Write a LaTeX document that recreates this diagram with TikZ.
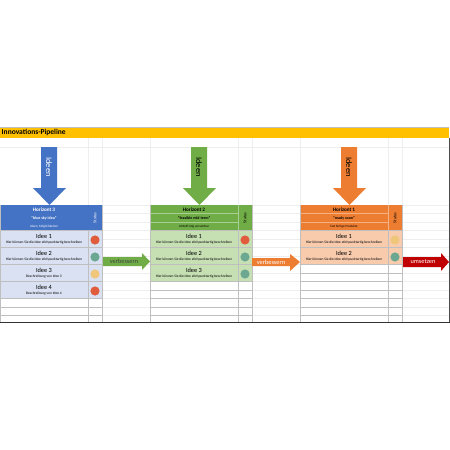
\documentclass[tikz,border=0pt]{standalone}
\usepackage{fontspec}
\setmainfont{Carlito}
\usetikzlibrary{positioning}
\usepackage{xcolor}
\definecolor{titelgelb}{RGB}{255,192,0}
\definecolor{hblau}{RGB}{68,114,196}
\definecolor{hblauhell}{RGB}{217,225,242}
\definecolor{hgruen}{RGB}{112,173,71}
\definecolor{hgruenhell}{RGB}{198,224,180}
\definecolor{horange}{RGB}{237,125,49}
\definecolor{horangehell}{RGB}{248,203,173}
\definecolor{pfeilrot}{RGB}{192,0,0}
\definecolor{ampelrot}{RGB}{224,92,60}
\definecolor{ampelgruen}{RGB}{108,168,145}
\definecolor{ampelgelb}{RGB}{240,198,122}

\begin{document}
\begin{tikzpicture}[x=0.03cm,y=-0.03cm,every node/.style={inner sep=0pt},
  gitter/.style={gray!13,line width=0.15pt},
  zeile/.style={gray!50,line width=0.25pt},
  titel/.style={font=\fontsize{6.4}{7}\selectfont\bfseries,anchor=west},
  pfeiltext/.style={font=\fontsize{7.2}{8}\selectfont,rotate=-90},
  quertext/.style={font=\fontsize{5.4}{6}\selectfont},
  horizont/.style={font=\fontsize{4.4}{5}\selectfont\bfseries},
  motto/.style={font=\fontsize{3.4}{4}\selectfont\bfseries},
  untertitel/.style={font=\fontsize{2.8}{3}\selectfont},
  idee/.style={font=\fontsize{5.4}{6}\selectfont},
  beschr/.style={font=\fontsize{3.05}{4}\selectfont},
  statustext/.style={font=\fontsize{3.6}{4}\selectfont,rotate=90},
  ampel/.style={circle,minimum size=2.75mm}]
\fill[white] (0,0) rectangle (450,450);
\useasboundingbox (0,0) rectangle (450,450);
% Tabellengitter
\foreach \k in {0,...,13}
  \draw[gitter] (0,{205+8.5*\k}) -- (449,{205+8.5*\k});
\draw[gitter] (0,147) -- (449,147);
\foreach \x in {88,102,150,238,252,300,388,402}
  \draw[gitter] (\x,137.5) -- (\x,322);
% Titel
\draw[gray!50] (0,127.5) -- (449,127.5);
\fill[titelgelb] (0,128) rectangle (449,137.5);
\node[titel] (titel) at (1.5,132.8) {Innovations-Pipeline};

% Horizont 3
\fill[hblau] (41,147) -- (57,147) -- (57,188) -- (66,188) -- (49.5,205) -- (33,188) -- (41,188) -- cycle;
\node[pfeiltext,text=white] (ideen3) at (49,167) {Ideen};
\fill[hblau] (0,205) rectangle (102,230.5);
\fill[hblauhell] (0,230.5) rectangle (102,298.5);
\node[horizont,text=white] (h3) at (44,209.3) {Horizont 3};
\node[motto,text=white] (h3motto) at (44,218) {"blue sky idea"};
\node[untertitel,text=white] (h3unter) at (44,226.5) {Ideen, Möglichkeiten};
\node[statustext,text=white] (h3status) at (95,217.8) {Status};
\foreach \y in {230.5,247.5,264.5,281.5,298.5,307,315.5}
  \draw[zeile] (0,\y) -- (102,\y);
\draw[zeile] (0,205) -- (0,322);
\draw[zeile] (88,230.5) -- (88,322);
\draw[zeile] (102,205) -- (102,322);
\node[idee] (h3i1) at (44,236.5) {Idee 1};
\node[beschr] (h3b1) at (44,243) {Hier können Sie die Idee stichpunktartig beschreiben};
\node[idee] (h3i2) at (44,253.5) {Idee 2};
\node[beschr] (h3b2) at (44,260) {Hier können Sie die Idee stichpunktartig beschreiben};
\node[idee] (h3i3) at (44,270.5) {Idee 3};
\node[beschr] (h3b3) at (44,277) {Beschreibung von Idee 3};
\node[idee] (h3i4) at (44,287.5) {Idee 4};
\node[beschr] (h3b4) at (44,294) {Beschreibung von Idee 4};
\node[ampel,fill=ampelrot] (h3s1) at (95,240) {};
\node[ampel,fill=ampelgruen] (h3s2) at (95,257) {};
\node[ampel,fill=ampelgelb] (h3s3) at (95,274) {};
\node[ampel,fill=ampelrot] (h3s4) at (95,291) {};

% verbessern
\fill[hgruen] (103,257) -- (142,257) -- (142,253) -- (150,261.5) -- (142,270) -- (142,266) -- (103,266) -- cycle;
\node[quertext,text=black!75] (verb1) at (124,261.5) {verbessern};

% Horizont 2
\fill[hgruen] (191,147) -- (207,147) -- (207,188) -- (216,188) -- (199.5,205) -- (183,188) -- (191,188) -- cycle;
\node[pfeiltext,text=black] (ideen2) at (199,167) {Ideen};
\fill[hgruen] (150,205) rectangle (252,230.5);
\fill[hgruenhell] (150,230.5) rectangle (252,281.5);
\draw[hgruen!60!white,line width=0.2pt] (150,213.5) -- (238,213.5) (150,222) -- (238,222) (238,205) -- (238,230.5);
\node[horizont] (h2) at (194,209.3) {Horizont 2};
\node[motto] (h2motto) at (194,218) {"feasible mid term"};
\node[untertitel] (h2unter) at (194,226.5) {mittelfristig umsetzbar};
\node[statustext] (h2status) at (245,217.8) {Status};
\foreach \y in {230.5,247.5,264.5,281.5,290,298.5,307,315.5}
  \draw[zeile] (150,\y) -- (252,\y);
\draw[zeile] (150,205) -- (150,322);
\draw[zeile] (238,230.5) -- (238,322);
\draw[zeile] (252,205) -- (252,322);
\node[idee] (h2i1) at (194,236.5) {Idee 1};
\node[beschr] (h2b1) at (194,243) {Hier können Sie die Idee stichpunktartig beschreiben};
\node[idee] (h2i2) at (194,253.5) {Idee 2};
\node[beschr] (h2b2) at (194,260) {Hier können Sie die Idee stichpunktartig beschreiben};
\node[idee] (h2i3) at (194,270.5) {Idee 3};
\node[beschr] (h2b3) at (194,277) {Hier können Sie die Idee stichpunktartig beschreiben};
\node[ampel,fill=ampelrot] (h2s1) at (245,240) {};
\node[ampel,fill=ampelgruen] (h2s2) at (245,257) {};
\node[ampel,fill=ampelgruen] (h2s3) at (245,274) {};

% verbessern
\fill[horange] (252,258) -- (290,258) -- (290,254) -- (300,262) -- (290,271) -- (290,266) -- (252,266) -- cycle;
\node[quertext,text=white] (verb2) at (271,262) {verbessern};

% Horizont 1
\fill[horange] (341,147) -- (357,147) -- (357,188) -- (366,188) -- (349.5,205) -- (333,188) -- (341,188) -- cycle;
\node[pfeiltext,text=black] (ideen1) at (349,167) {Ideen};
\fill[horange] (300,205) rectangle (402,230.5);
\fill[horangehell] (300,230.5) rectangle (402,264.5);
\draw[horange!60!white,line width=0.2pt] (300,213.5) -- (388,213.5) (300,222) -- (388,222) (388,205) -- (388,230.5);
\node[horizont] (h1) at (344,209.3) {Horizont 1};
\node[motto] (h1motto) at (344,218) {"ready soon"};
\node[untertitel] (h1unter) at (344,226.5) {fast fertige Produkte};
\node[statustext] (h1status) at (395,217.8) {Status};
\foreach \y in {230.5,247.5,264.5,273,281.5,290,298.5,307,315.5}
  \draw[zeile] (300,\y) -- (402,\y);
\draw[zeile] (300,205) -- (300,322);
\draw[zeile] (388,230.5) -- (388,322);
\draw[zeile] (402,205) -- (402,322);
\node[idee] (h1i1) at (344,236.5) {Idee 1};
\node[beschr] (h1b1) at (344,243) {Hier können Sie die Idee stichpunktartig beschreiben};
\node[idee] (h1i2) at (344,253.5) {Idee 2};
\node[beschr] (h1b2) at (344,260) {Hier können Sie die Idee stichpunktartig beschreiben};
\node[ampel,fill=ampelgelb] (h1s1) at (395,240) {};
\node[ampel,fill=ampelgruen] (h1s2) at (395,257) {};

% umsetzen
\fill[pfeilrot] (403,257) -- (441,257) -- (441,253) -- (449,262) -- (441,271) -- (441,267) -- (403,267) -- cycle;
\node[quertext,text=white] (umsetzen) at (423,262) {umsetzen};

% Rand
\draw[black!80,line width=0.5pt] (0,322) -- (450,322);
\draw[black!70,line width=0.4pt] (449.5,137.5) -- (449.5,322);
\end{tikzpicture}
\end{document}
